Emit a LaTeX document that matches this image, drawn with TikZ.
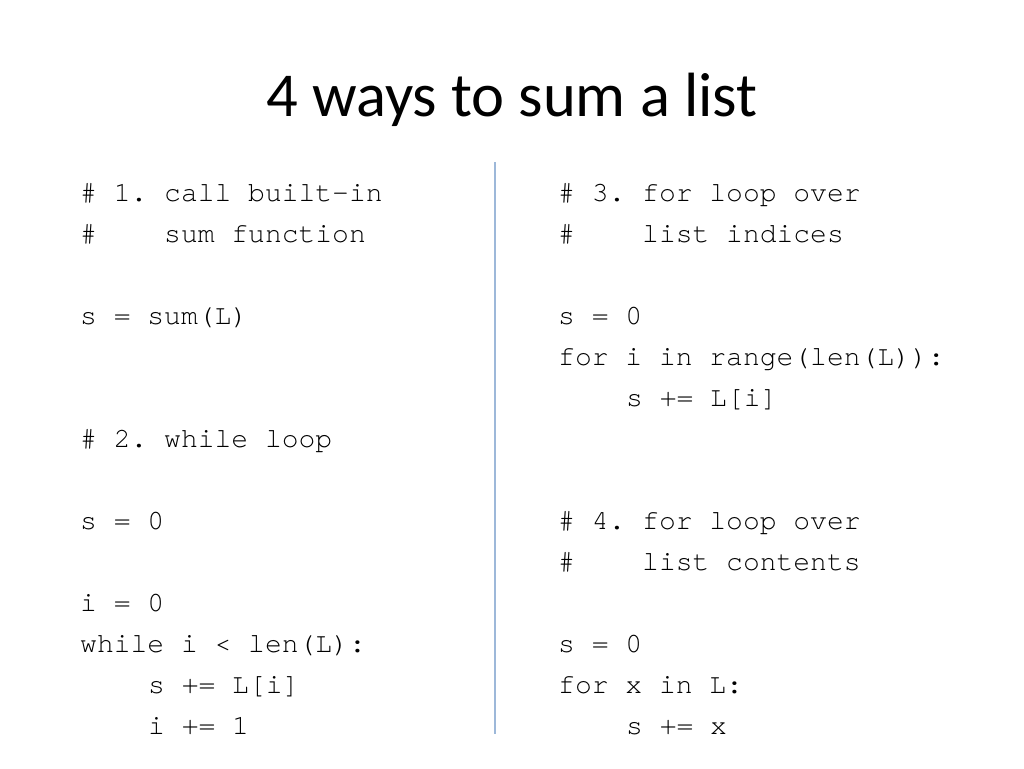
\documentclass[tikz,border=0pt]{standalone}
\usepackage{fontspec}
\setmainfont{Carlito}
\newfontfamily\codefont{texgyrecursor-regular.otf}
\definecolor{rulecol}{HTML}{9DB8D9}
\begin{document}
\begin{tikzpicture}[
        x = 1pt, y = -1pt,
        every node/.style = {inner sep = 0pt, anchor = base west},
        code/.style = {font = \codefont\fontsize{28}{34}\selectfont\frenchspacing},
        title/.style = {anchor = base, font = \fontsize{62.5}{74}\selectfont},
        ]
        \useasboundingbox (0,0) rectangle (1024,768);
        \node[title] (title) at (512,116) {4 ways to sum a list};
        % left column
        \node[code] (c1a) at (80,201) {\# 1. call built-in};
        \node[code] (c1b) at (80,242) {\#\ \ \ \ sum function};
        \node[code] (c1s) at (80,324) {s = sum(L)};
        \node[code] (c2a) at (80,447) {\# 2. while loop};
        \node[code] (c2s) at (80,529) {s = 0};
        \node[code] (c2i) at (80,611) {i = 0};
        \node[code] (c2w) at (80,652) {while i < len(L):};
        \node[code] (c2x) at (148,693) {s += L[i]};
        \node[code] (c2y) at (148,734) {i += 1};
        % right column
        \node[code] (c3a) at (558,201) {\# 3. for loop over};
        \node[code] (c3b) at (558,242) {\#\ \ \ \ list indices};
        \node[code] (c3s) at (558,324) {s = 0};
        \node[code] (c3f) at (558,365) {for i in range(len(L)):};
        \node[code] (c3x) at (626,406) {s += L[i]};
        \node[code] (c4a) at (558,529) {\# 4. for loop over};
        \node[code] (c4b) at (558,570) {\#\ \ \ \ list contents};
        \node[code] (c4s) at (558,652) {s = 0};
        \node[code] (c4f) at (558,693) {for x in L:};
        \node[code] (c4x) at (626,734) {s += x};
        % divider
        \coordinate (top) at (495,162);
        \coordinate (bottom) at (495,734);
        \draw[rulecol, line width = 1.5pt] (top) -- (bottom);
    \end{tikzpicture}
\end{document}
